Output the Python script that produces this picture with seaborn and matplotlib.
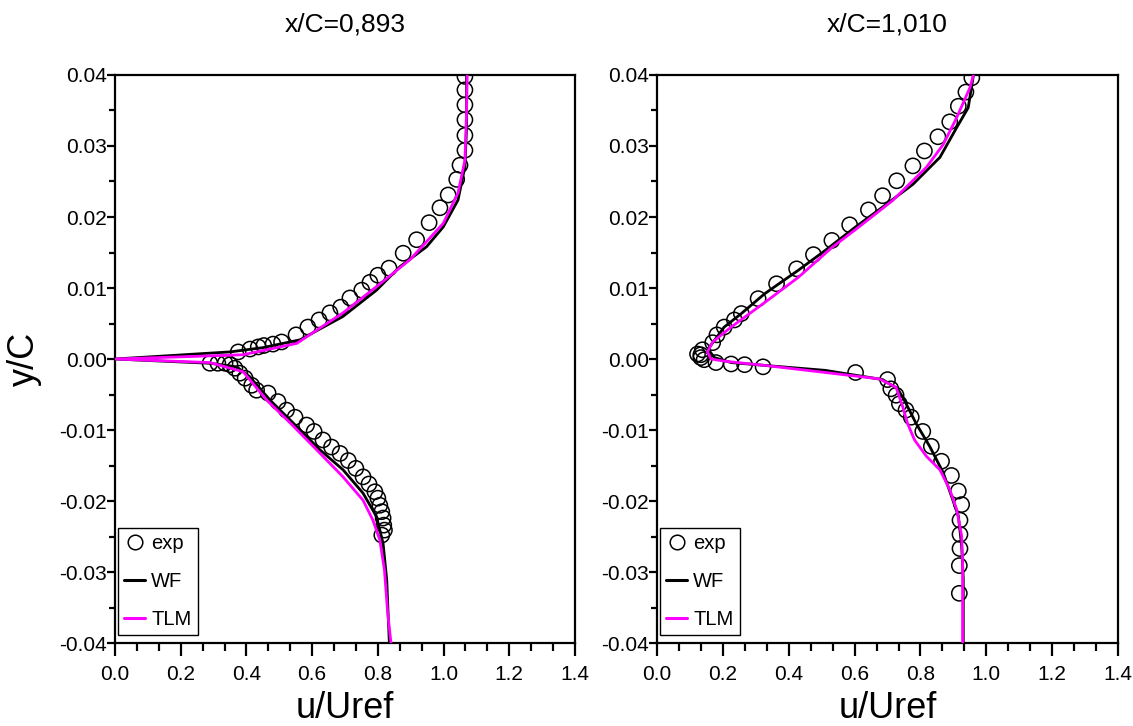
import matplotlib
matplotlib.use("Agg")
import matplotlib.pyplot as plt
import seaborn as sns
import pandas as pd
from matplotlib.ticker import AutoMinorLocator, FormatStrFormatter
from matplotlib.lines import Line2D

# ---------------- data: x/C = 0,893 ----------------
titles = ["x/C=0,893", "x/C=1,010"]

L_exp_u = [1.065, 1.065, 1.065, 1.065, 1.065, 1.065, 1.05, 1.04, 1.014, 0.989, 0.956, 0.918,
           0.877, 0.834, 0.800, 0.776, 0.751, 0.715, 0.687, 0.654, 0.621, 0.587, 0.551, 0.507,
           0.481, 0.453, 0.436, 0.411, 0.375,
           0.289, 0.313, 0.335, 0.350, 0.365, 0.380, 0.396, 0.416, 0.431, 0.466, 0.496, 0.522,
           0.548, 0.583, 0.606, 0.633, 0.659, 0.685, 0.710, 0.733, 0.755, 0.773, 0.791, 0.800,
           0.806, 0.812, 0.816, 0.818, 0.820, 0.812]
L_exp_y = [0.0398, 0.0379, 0.0358, 0.0337, 0.0315, 0.0294, 0.0273, 0.0253, 0.0231, 0.0213,
           0.0192, 0.0168, 0.0149, 0.0128, 0.0118, 0.0108, 0.0097, 0.0086, 0.0073, 0.0065,
           0.0055, 0.0045, 0.0034, 0.0024, 0.0021, 0.0019, 0.0017, 0.0014, 0.0010,
           -0.0006, -0.0006, -0.0006, -0.0008, -0.0013, -0.0020, -0.0027, -0.0037, -0.0044,
           -0.0048, -0.0060, -0.0072, -0.0082, -0.0093, -0.0102, -0.0114, -0.0124, -0.0133,
           -0.0143, -0.0154, -0.0166, -0.0176, -0.0187, -0.0196, -0.0206, -0.0215, -0.0224,
           -0.0234, -0.0241, -0.0248]

L_wf_u = [1.070, 1.070, 1.065, 1.044, 0.999, 0.948, 0.867, 0.796, 0.694, 0.563, 0.450, 0.350, 0.0,
          0.289, 0.370, 0.410, 0.472, 0.542, 0.624, 0.694, 0.755, 0.796, 0.816, 0.827, 0.835]
L_wf_y = [0.0400, 0.0327, 0.0271, 0.0224, 0.0186, 0.0158, 0.0130, 0.0097, 0.0060, 0.0027,
          0.0016, 0.0010, 0.0,
          -0.0006, -0.0011, -0.0025, -0.0058, -0.0090, -0.0128, -0.0156, -0.0189, -0.0222,
          -0.0260, -0.0311, -0.0400]

L_tlm_u = [1.072, 1.070, 1.065, 1.044, 0.999, 0.898, 0.796, 0.694, 0.553, 0.390, 0.0,
           0.289, 0.390, 0.462, 0.533, 0.614, 0.694, 0.755, 0.785, 0.806, 0.820, 0.830, 0.840]
L_tlm_y = [0.0400, 0.0350, 0.0280, 0.0234, 0.0191, 0.0140, 0.0102, 0.0065, 0.0022, 0.0006, 0.0,
           -0.0005, -0.0018, -0.0058, -0.0090, -0.0128, -0.0166, -0.0199, -0.0227, -0.0255,
           -0.0297, -0.0358, -0.0400]

# ---------------- data: x/C = 1,010 ----------------
R_exp_u = [0.956, 0.938, 0.915, 0.889, 0.853, 0.812, 0.777, 0.728, 0.685, 0.642, 0.585, 0.531,
           0.475, 0.424, 0.363, 0.307, 0.256, 0.235, 0.204, 0.182, 0.169, 0.138, 0.133,
           0.123, 0.133, 0.143, 0.179, 0.225, 0.266, 0.322, 0.603, 0.700, 0.710, 0.726, 0.736,
           0.756, 0.772, 0.807, 0.833, 0.864, 0.894, 0.915, 0.925, 0.920, 0.920, 0.920, 0.918,
           0.918]
R_exp_y = [0.0396, 0.0376, 0.0356, 0.0334, 0.0313, 0.0293, 0.0272, 0.0251, 0.0230, 0.0210,
           0.0189, 0.0167, 0.0147, 0.0127, 0.0106, 0.0085, 0.0064, 0.0055, 0.0045, 0.0034,
           0.0023, 0.0013, 0.0006,
           0.0007, 0.0002, -0.0001, -0.0005, -0.0007, -0.0008, -0.0011, -0.0019, -0.0029,
           -0.0042, -0.0051, -0.0063, -0.0072, -0.0082, -0.0102, -0.0123, -0.0144, -0.0164,
           -0.0186, -0.0205, -0.0227, -0.0247, -0.0267, -0.0291, -0.0330]

R_wf_u = [0.961, 0.945, 0.910, 0.859, 0.777, 0.685, 0.603, 0.511, 0.429, 0.327, 0.256, 0.204,
          0.155, 0.174, 0.225, 0.327, 0.511, 0.685, 0.731, 0.751, 0.787, 0.828, 0.869, 0.894,
          0.915, 0.925, 0.930, 0.930]
R_wf_y = [0.0400, 0.0354, 0.0326, 0.0284, 0.0246, 0.0214, 0.0186, 0.0153, 0.0125, 0.0092,
          0.0064, 0.0045, 0.0014, 0.0002, -0.0005, -0.0009, -0.0016, -0.0029, -0.0042,
          -0.0058, -0.0091, -0.0123, -0.0160, -0.0193, -0.0221, -0.0263, -0.0309, -0.0400]

R_tlm_u = [0.961, 0.950, 0.910, 0.869, 0.818, 0.715, 0.613, 0.531, 0.429, 0.337, 0.225, 0.169,
           0.153, 0.164, 0.204, 0.327, 0.511, 0.675, 0.726, 0.746, 0.761, 0.782, 0.818, 0.859,
           0.889, 0.910, 0.925, 0.928, 0.928]
R_tlm_y = [0.0400, 0.0382, 0.0340, 0.0302, 0.0270, 0.0223, 0.0186, 0.0157, 0.0115, 0.0083,
           0.0045, 0.0024, 0.0010, 0.0000, -0.0003, -0.0009, -0.0019, -0.0028, -0.0040,
           -0.0067, -0.0091, -0.0114, -0.0137, -0.0156, -0.0184, -0.0212, -0.0249, -0.0286,
           -0.0400]

x_ticks = [0.0, 0.2, 0.4, 0.6, 0.8, 1.0, 1.2, 1.4]
y_ticks = [-0.04, -0.03, -0.02, -0.01, 0.00, 0.01, 0.02, 0.03, 0.04]
legend_labels = ["exp", "WF", "TLM"]

sns.set_theme(style="ticks")
plt.rcParams['font.family'] = ['Liberation Sans', 'DejaVu Sans']
plt.rcParams.update({
    'text.color': 'black', 'axes.labelcolor': 'black',
    'xtick.color': 'black', 'ytick.color': 'black',
    'axes.edgecolor': 'black', 'axes.linewidth': 1.6,
})

fig = plt.figure(figsize=(11.33, 7.26), dpi=100)
ax1 = fig.add_axes([0.1015, 0.1143, 0.406, 0.7824])
ax2 = fig.add_axes([0.5799, 0.1143, 0.4069, 0.7824])

panels = [
    (ax1, L_exp_u, L_exp_y, L_wf_u, L_wf_y, L_tlm_u, L_tlm_y),
    (ax2, R_exp_u, R_exp_y, R_wf_u, R_wf_y, R_tlm_u, R_tlm_y),
]

for i, (ax, eu, ey, wu, wy, tu, ty) in enumerate(panels):
    df_exp = pd.DataFrame({"u": eu, "y": ey})
    df_wf = pd.DataFrame({"u": wu, "y": wy})
    df_tlm = pd.DataFrame({"u": tu, "y": ty})
    sns.scatterplot(data=df_exp, x="u", y="y", ax=ax, marker="o", s=120,
                    facecolor="none", edgecolor="black", linewidth=1.1, zorder=2)
    sns.lineplot(data=df_wf, x="u", y="y", ax=ax, sort=False, estimator=None,
                 color="black", linewidth=2.0, zorder=3)
    sns.lineplot(data=df_tlm, x="u", y="y", ax=ax, sort=False, estimator=None,
                 color="#ff00ff", linewidth=2.0, zorder=4)

    ax.set_xlim(0, 1.4)
    ax.set_ylim(-0.04, 0.04)
    ax.set_xticks(x_ticks)
    ax.set_yticks(y_ticks)
    ax.xaxis.set_major_formatter(FormatStrFormatter('%.1f'))
    ax.yaxis.set_major_formatter(FormatStrFormatter('%.2f'))
    ax.xaxis.set_minor_locator(AutoMinorLocator(3))
    ax.yaxis.set_minor_locator(AutoMinorLocator(2))
    ax.tick_params(axis='x', which='major', direction='out', length=9, width=1.6,
                   labelsize=15, pad=7)
    ax.tick_params(axis='x', which='minor', direction='out', length=6, width=1.6)
    ax.tick_params(axis='y', which='major', direction='out', length=5.5, width=1.6,
                   labelsize=15, pad=0.5)
    ax.tick_params(axis='y', which='minor', direction='out', length=4, width=1.6)
    for sp in ax.spines.values():
        sp.set_visible(True)
        sp.set_color('black')
        sp.set_linewidth(1.6)
    ax.set_xlabel("u/Uref", fontsize=26, labelpad=5)
    if i == 0:
        ax.set_ylabel("y/C", fontsize=26)
        ax.yaxis.set_label_coords(-0.158, 0.5)
    else:
        ax.set_ylabel("")
    ax.set_title(titles[i], fontsize=19, pad=31)

    handles = [
        Line2D([], [], marker='o', linestyle='none', markerfacecolor='none',
               markeredgecolor='black', markersize=10.5, markeredgewidth=1.1),
        Line2D([], [], color='black', linewidth=2.2),
        Line2D([], [], color='#ff00ff', linewidth=2.2),
    ]
    leg = ax.legend(handles, legend_labels, loc='lower left', fontsize=14.5,
                    bbox_to_anchor=(3 / 460, 8 / 568), borderaxespad=0,
                    frameon=True, fancybox=False, edgecolor='black', framealpha=1,
                    handlelength=1.05, handletextpad=0.3, borderpad=0.3, labelspacing=0.95)
    leg.get_frame().set_linewidth(1.0)

fig.savefig("out.png", dpi=100)
